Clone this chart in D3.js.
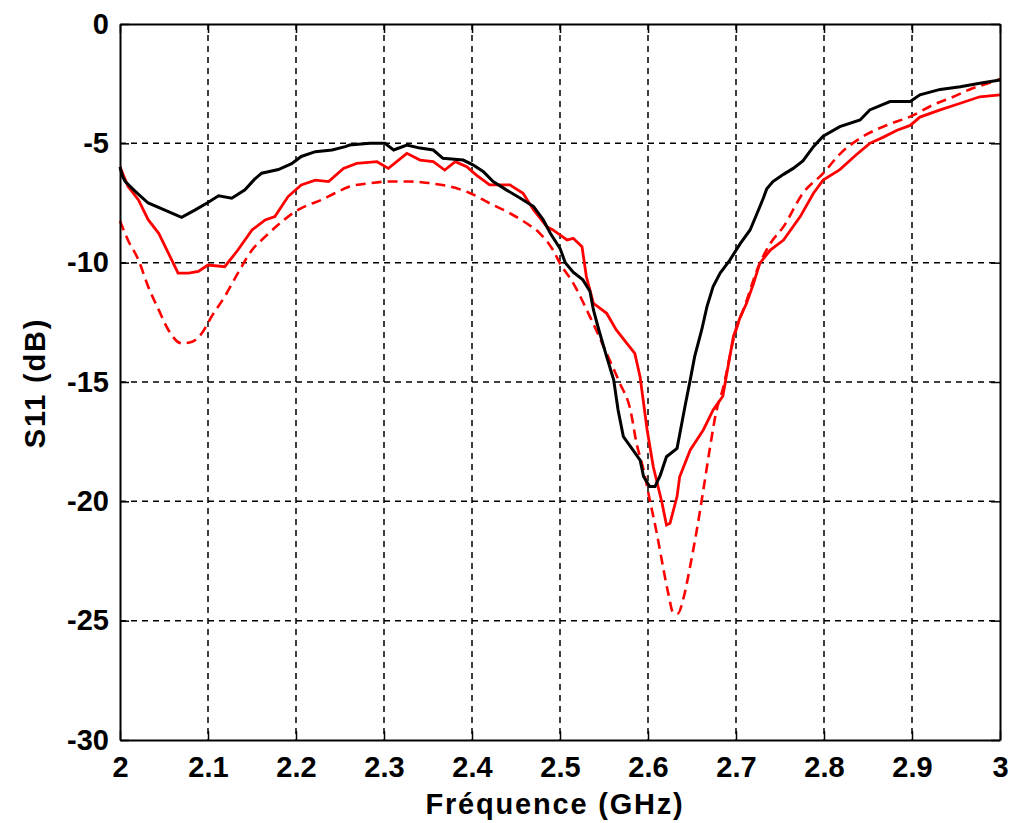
<!DOCTYPE html>
<html>
<head>
<meta charset="utf-8">
<script src="https://cdn.jsdelivr.net/npm/d3@7"></script>
<style>
  body { margin: 0; background: #fff; }
  text { font-family: "Liberation Sans", Arial, sans-serif; fill: #000; }
</style>
</head>
<body>
<script>
// ticks
var xTicks = [2, 2.1, 2.2, 2.3, 2.4, 2.5, 2.6, 2.7, 2.8, 2.9, 3];
var yTicks = [0, -5, -10, -15, -20, -25, -30];
var xTitle = "Fréquence (GHz)";
var yTitle = "S11 (dB)";

// mesure 1 (noir)  [GHz, dB]
var mesureNoir = [
  [2.000,-6.0],[2.003,-6.4],[2.006,-6.6],[2.017,-7.0],[2.032,-7.5],[2.051,-7.8],
  [2.070,-8.1],[2.085,-7.8],[2.099,-7.5],[2.112,-7.2],[2.127,-7.3],[2.142,-6.95],
  [2.153,-6.5],[2.161,-6.25],[2.180,-6.1],[2.195,-5.85],[2.206,-5.55],[2.222,-5.35],
  [2.241,-5.28],[2.256,-5.14],[2.261,-5.07],[2.284,-5.0],[2.301,-5.0],[2.311,-5.28],
  [2.326,-5.07],[2.341,-5.2],[2.356,-5.28],[2.367,-5.63],[2.390,-5.7],[2.401,-5.9],
  [2.413,-6.19],[2.424,-6.6],[2.439,-6.95],[2.455,-7.3],[2.470,-7.65],[2.481,-8.2],
  [2.489,-8.77],[2.500,-9.4],[2.506,-10.0],[2.515,-10.4],[2.526,-10.72],[2.534,-11.2],
  [2.538,-11.98],[2.544,-12.8],[2.553,-13.94],[2.561,-14.91],[2.566,-16.17],[2.572,-17.29],
  [2.583,-17.85],[2.591,-18.27],[2.595,-18.97],[2.602,-19.38],[2.608,-19.38],[2.614,-18.9],
  [2.621,-18.13],[2.633,-17.78],[2.636,-17.2],[2.642,-16.03],[2.648,-14.91],[2.653,-13.94],
  [2.661,-12.82],[2.667,-11.84],[2.674,-11.0],[2.682,-10.44],[2.693,-9.89],[2.705,-9.19],
  [2.716,-8.63],[2.724,-7.93],[2.731,-7.3],[2.735,-6.9],[2.742,-6.6],[2.754,-6.3],
  [2.765,-6.05],[2.776,-5.74],[2.788,-5.14],[2.799,-4.7],[2.818,-4.3],[2.841,-4.02],
  [2.852,-3.6],[2.875,-3.25],[2.898,-3.25],[2.909,-2.97],[2.932,-2.74],[2.955,-2.63],
  [2.977,-2.48],[3.000,-2.35]
];

// mesure 2 (rouge)
var mesureRouge = [
  [2.000,-5.98],[2.009,-6.8],[2.021,-7.37],[2.032,-8.2],[2.044,-8.77],[2.055,-9.6],
  [2.066,-10.44],[2.078,-10.44],[2.089,-10.37],[2.100,-10.1],[2.119,-10.17],[2.134,-9.47],
  [2.150,-8.63],[2.165,-8.21],[2.176,-8.07],[2.191,-7.23],[2.206,-6.74],[2.222,-6.54],
  [2.237,-6.6],[2.254,-6.05],[2.269,-5.84],[2.292,-5.77],[2.305,-6.05],[2.326,-5.42],
  [2.341,-5.7],[2.356,-5.77],[2.369,-6.12],[2.381,-5.77],[2.394,-5.98],[2.405,-6.33],
  [2.420,-6.74],[2.443,-6.74],[2.458,-7.09],[2.470,-7.79],[2.485,-8.49],[2.492,-8.63],
  [2.508,-9.05],[2.515,-8.98],[2.525,-9.33],[2.530,-10.59],[2.538,-11.7],[2.553,-12.12],
  [2.564,-12.82],[2.576,-13.38],[2.585,-13.8],[2.591,-14.78],[2.599,-17.0],[2.606,-18.55],
  [2.616,-20.08],[2.621,-20.99],[2.625,-20.92],[2.633,-19.8],[2.636,-18.97],[2.648,-17.85],
  [2.663,-17.0],[2.674,-16.17],[2.685,-15.6],[2.697,-13.1],[2.705,-12.26],[2.712,-11.7],
  [2.720,-10.86],[2.727,-10.03],[2.739,-9.47],[2.754,-9.05],[2.773,-8.07],[2.788,-7.09],
  [2.799,-6.54],[2.818,-6.1],[2.836,-5.5],[2.852,-5.0],[2.867,-4.75],[2.883,-4.45],
  [2.898,-4.25],[2.909,-3.9],[2.932,-3.6],[2.955,-3.32],[2.977,-3.05],[3.000,-2.97]
];

// simulation (rouge pointillé)
var simulation = [
  [2.000,-8.25],[2.009,-9.05],[2.021,-9.89],[2.032,-11.0],[2.044,-11.98],[2.055,-12.82],
  [2.070,-13.38],[2.082,-13.31],[2.093,-12.96],[2.104,-12.26],[2.119,-11.42],[2.134,-10.44],
  [2.150,-9.47],[2.165,-8.91],[2.184,-8.28],[2.199,-7.86],[2.214,-7.58],[2.229,-7.37],
  [2.244,-7.09],[2.261,-6.81],[2.284,-6.67],[2.307,-6.6],[2.330,-6.6],[2.352,-6.67],
  [2.375,-6.81],[2.398,-7.09],[2.420,-7.51],[2.443,-7.93],[2.462,-8.35],[2.477,-8.77],
  [2.492,-9.47],[2.500,-10.03],[2.515,-10.86],[2.534,-12.26],[2.553,-13.8],[2.568,-15.05],
  [2.580,-16.17],[2.587,-17.57],[2.595,-18.68],[2.602,-19.94],[2.610,-21.34],[2.617,-22.73],
  [2.623,-23.85],[2.629,-24.69],[2.634,-24.7],[2.640,-24.1],[2.648,-22.7],[2.655,-21.3],
  [2.663,-19.5],[2.670,-17.85],[2.678,-16.17],[2.685,-15.3],[2.697,-13.24],[2.712,-11.6],
  [2.724,-10.3],[2.739,-9.2],[2.754,-8.49],[2.776,-7.09],[2.799,-6.26],[2.818,-5.45],
  [2.844,-4.72],[2.872,-4.23],[2.898,-3.88],[2.924,-3.39],[2.947,-3.05],[2.969,-2.69],
  [2.992,-2.42],[3.000,-2.3]
];

var W = 1010, H = 823;
var margin = {top: 24, right: 10, bottom: 83, left: 120},
    width = W - margin.left - margin.right,
    height = H - margin.top - margin.bottom;

var svg = d3.select("body").append("svg")
    .attr("width", W).attr("height", H);
var g = svg.append("g")
    .attr("transform", "translate(" + margin.left + "," + margin.top + ")");

var x = d3.scaleLinear().domain([2, 3]).range([0, width]);
var y = d3.scaleLinear().domain([-30, 0]).range([height, 0]);

// grille pointillée
g.append("g").selectAll("line").data(xTicks.slice(1, -1)).enter().append("line")
  .attr("x1", d => x(d)).attr("x2", d => x(d))
  .attr("y1", 0).attr("y2", height)
  .attr("stroke", "#000").attr("stroke-width", 1.5).attr("stroke-dasharray", "6,5");
g.append("g").selectAll("line").data(yTicks.slice(1, -1)).enter().append("line")
  .attr("x1", 0).attr("x2", width)
  .attr("y1", d => y(d)).attr("y2", d => y(d))
  .attr("stroke", "#000").attr("stroke-width", 1.5).attr("stroke-dasharray", "6,5");

var line = d3.line().x(d => x(d[0])).y(d => y(d[1]));

g.append("path").datum(simulation)
  .attr("fill", "none").attr("stroke", "#ff0000").attr("stroke-width", 2.6)
  .attr("stroke-dasharray", "10,6")
  .attr("d", line.curve(d3.curveMonotoneX));
line.curve(d3.curveLinear);
g.append("path").datum(mesureRouge)
  .attr("fill", "none").attr("stroke", "#ff0000").attr("stroke-width", 2.8)
  .attr("d", line);
g.append("path").datum(mesureNoir)
  .attr("fill", "none").attr("stroke", "#000").attr("stroke-width", 3)
  .attr("d", line);

// axes avec graduations intérieures
var tk = 9;
var fmt = d => String(d);   // tiret simple, pas de signe moins unicode
var xAxis = g.append("g").attr("transform", "translate(0," + height + ")")
  .call(d3.axisBottom(x).tickValues(xTicks).tickFormat(fmt).tickSizeInner(-tk).tickSizeOuter(0).tickPadding(16));
var yAxis = g.append("g")
  .call(d3.axisLeft(y).tickValues(yTicks).tickFormat(fmt).tickSizeInner(-tk).tickSizeOuter(0).tickPadding(11));
g.append("g")
  .call(d3.axisTop(x).tickValues(xTicks).tickFormat("").tickSizeInner(-tk).tickSizeOuter(0));
g.append("g").attr("transform", "translate(" + width + ",0)")
  .call(d3.axisRight(y).tickValues(yTicks).tickFormat("").tickSizeInner(-tk).tickSizeOuter(0));

g.selectAll(".domain").attr("stroke", "#000").attr("stroke-width", 2);
g.selectAll(".tick line").attr("stroke", "#000").attr("stroke-width", 1.5);
g.selectAll(".tick text")
  .style("font-family", "'Liberation Sans', Arial, sans-serif")
  .style("font-size", "29px").style("font-weight", "bold").attr("fill", "#000");

// titres
svg.append("text")
  .attr("x", margin.left + width / 2 - 5).attr("y", 814)
  .attr("text-anchor", "middle")
  .style("font-size", "29px").style("font-weight", "bold").style("letter-spacing", "1.8px")
  .text(xTitle);
svg.append("text")
  .attr("transform", "translate(45," + (margin.top + height / 2 + 1) + ") rotate(-90)")
  .attr("text-anchor", "middle")
  .style("font-size", "29px").style("font-weight", "bold").style("letter-spacing", "1.8px")
  .text(yTitle);
</script>
</body>
</html>
